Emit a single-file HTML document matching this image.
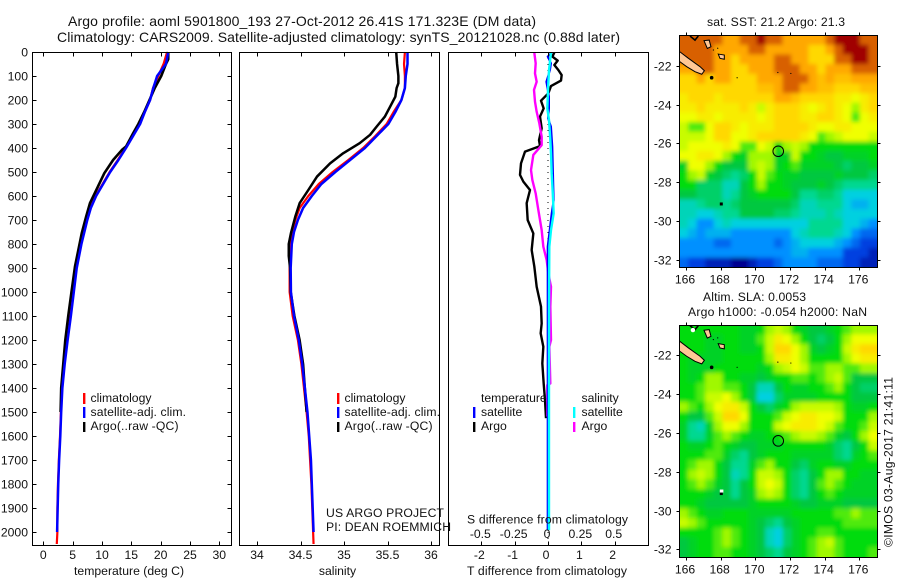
<!DOCTYPE html>
<html lang="en">
<head>
<meta charset="utf-8">
<title>Argo profile</title>
<style>
html,body{margin:0;padding:0;background:#fff}
svg{display:block}
text{font-family:"Liberation Sans",sans-serif;font-size:12.2px;fill:#111}
</style>
</head>
<body>
<svg id="chart" xmlns="http://www.w3.org/2000/svg" width="900" height="580" viewBox="0 0 900 580">
<defs>
<filter id="soften" x="-5%" y="-5%" width="110%" height="110%"><feGaussianBlur stdDeviation="2.2"/></filter>
<clipPath id="clip-sst"><rect x="679.5" y="35.5" width="198" height="232"/></clipPath>
<clipPath id="clip-sla"><rect x="679.5" y="325.5" width="198" height="232"/></clipPath>
</defs>
<text x="68" y="26" style="font-size:14px" textLength="468" lengthAdjust="spacing">Argo profile: aoml 5901800_193 27-Oct-2012 26.41S 171.323E (DM data)</text>
<text x="57" y="42" style="font-size:14px" textLength="563" lengthAdjust="spacing">Climatology: CARS2009. Satellite-adjusted climatology: synTS_20121028.nc (0.88d later)</text>
<g id="layer-heat"></g>
<g id="layer-series"></g>
<g id="layer-axes"></g>

<text x="129" y="575" text-anchor="middle" textLength="110" lengthAdjust="spacing">temperature (deg C)</text>
<text x="337.5" y="575" text-anchor="middle">salinity</text>
<text x="547" y="575" text-anchor="middle" textLength="160" lengthAdjust="spacing">T difference from climatology</text>
<text x="547.5" y="523.5" text-anchor="middle" textLength="161" lengthAdjust="spacing">S difference from climatology</text>

<g>
<rect x="83" y="393" width="2.4" height="11" fill="#f00"/>
<rect x="83" y="407" width="2.4" height="11" fill="#00f"/>
<rect x="83" y="422" width="2.4" height="10" fill="#000"/>
<text x="90.5" y="402">climatology</text>
<text x="90.5" y="416" textLength="95.5" lengthAdjust="spacing">satellite-adj. clim.</text>
<text x="90.5" y="430" textLength="88" lengthAdjust="spacing">Argo(..raw -QC)</text>
</g>
<g>
<rect x="337" y="393" width="2.4" height="11" fill="#f00"/>
<rect x="337" y="407" width="2.4" height="11" fill="#00f"/>
<rect x="337" y="422" width="2.4" height="10" fill="#000"/>
<text x="344.5" y="402">climatology</text>
<text x="344.5" y="416" textLength="95.5" lengthAdjust="spacing">satellite-adj. clim.</text>
<text x="344.5" y="430" textLength="88" lengthAdjust="spacing">Argo(..raw -QC)</text>
</g>
<g>
<text x="481" y="402">temperature</text>
<text x="581.5" y="402">salinity</text>
<rect x="473" y="407" width="2.4" height="11" fill="#00f"/>
<rect x="473" y="422" width="2.4" height="10" fill="#000"/>
<rect x="573" y="407" width="2.4" height="11" fill="#0ff"/>
<rect x="573" y="422" width="2.4" height="10" fill="#f0f"/>
<text x="481" y="416">satellite</text>
<text x="481" y="430">Argo</text>
<text x="581.5" y="416">satellite</text>
<text x="581.5" y="430">Argo</text>
</g>
<text x="326" y="517" textLength="118" lengthAdjust="spacing">US ARGO PROJECT</text>
<text x="326" y="531" textLength="125" lengthAdjust="spacing">PI: DEAN ROEMMICH</text>

<text x="707" y="26" textLength="138" lengthAdjust="spacing">sat. SST: 21.2 Argo: 21.3</text>
<text x="703" y="301" textLength="103" lengthAdjust="spacing">Altim. SLA: 0.0053</text>
<text x="688" y="316" textLength="179" lengthAdjust="spacing">Argo h1000: -0.054 h2000: NaN</text>
<text transform="translate(892.5,547) rotate(-90)" textLength="170" lengthAdjust="spacing">©IMOS 03-Aug-2017 21:41:11</text>
</svg>

<script>
// ---- profile data -------------------------------------------------------
var climDepth = [0,50,100,150,200,250,300,350,400,450,500,550,600,650,700,800,900,1000,1100,1200,1300,1400,1500,1600,1700,1800,1900,2000,2050];
var climTemp = [21.1,20.5,19.6,18.7,18.2,17.3,16.4,15.2,14.0,12.7,11.3,10.1,8.9,8.0,7.4,6.4,5.6,5.1,4.6,4.1,3.6,3.2,3.0,2.85,2.65,2.5,2.4,2.4,2.3];
var satDepth = [0,50,100,150,200,250,300,350,400,450,500,550,600,650,700,800,900,1000,1100,1200,1300,1400,1500,1600,1700,1800,1900,2000];
var satTemp = [21.3,20.9,19.4,18.75,18.2,17.3,16.5,15.3,14.1,12.8,11.4,10.2,9.0,8.1,7.5,6.5,5.7,5.2,4.7,4.15,3.65,3.25,3.05,2.9,2.7,2.55,2.45,2.35];
var argoTempDepth = [0,30,50,100,150,200,250,300,339,394,408,450,505,561,630,686,755,894,1000,1100,1200,1300,1400,1500];
var argoTemp = [21.3,21.3,20.9,20.1,19.0,18.1,17.2,16.2,15.3,14.1,13.4,11.9,10.4,9.3,7.95,7.3,6.55,5.4,4.8,4.25,3.75,3.4,3.05,2.95];

var climSalDepth = [0,50,100,150,200,250,300,350,400,450,500,550,600,650,700,750,800,900,1000,1100,1200,1300,1400,1500,1600,1700,1800,1900,2000,2050];
var climSal = [35.70,35.69,35.70,35.70,35.66,35.57,35.49,35.36,35.22,35.05,34.87,34.71,34.59,34.49,34.44,34.41,34.39,34.375,34.375,34.41,34.47,34.51,34.54,34.57,34.595,34.61,34.625,34.635,34.645,34.65];
var satSalDepth = [0,50,100,150,200,250,300,350,400,450,500,550,600,650,700,750,800,900,1000,1100,1200,1300,1400,1500,1600,1700,1800,1900,2000];
var satSal = [35.73,35.73,35.71,35.70,35.66,35.59,35.51,35.375,35.24,35.07,34.90,34.74,34.63,34.53,34.47,34.425,34.40,34.387,34.39,34.425,34.48,34.52,34.55,34.58,34.60,34.62,34.63,34.64,34.65];
var argoSalDepth = [0,50,100,130,150,186,228,269,311,345,380,422,464,519,575,630,686,755,800,850,900,1000,1100,1200,1300,1400,1500];
var argoSal = [35.60,35.61,35.625,35.625,35.605,35.59,35.53,35.47,35.375,35.30,35.18,34.99,34.84,34.69,34.59,34.49,34.44,34.39,34.365,34.365,34.38,34.387,34.43,34.49,34.53,34.55,34.57];

var argoTDiffDepth = [3,19,36,54,75,96,119,142,172,203,235,269,318,367,392,415,464,512,540,575,630,700,756,825,894,978,1061,1131,1172,1228,1297,1381,1450,1526];
var argoTDiff = [.19,.13,.29,.19,.31,.41,.39,.09,.01,-.21,-.13,-.24,-.19,-.27,-.24,-.69,-.81,-.84,-.74,-.54,-.64,-.61,-.44,-.49,-.41,-.34,-.21,-.19,-.22,-.14,-.17,-.13,-.09,-.06];
var argoSDiffDepth = [3,47,89,124,158,207,249,297,353,388,429,492,533,589,658,742,811,867,922,978,1061,1200,1228,1381,1388,1519];
var argoSDiff = [-.1025,-.0925,-.0975,-.085,-.105,-.0975,-.085,-.065,-.0475,-.0475,-.11,-.1275,-.1175,-.0925,-.0725,-.0475,-.035,-.01,.0025,.0225,.0175,.0225,.01,.0175,-.005,-.005];
var satTDiffDepth = [3,19,47,75,124,186,235,276,311,394,506,617,672,742,811,1061,1992];
var satTDiff = [.11,-.01,.09,.06,-.05,.03,.03,0,.09,.13,.15,.17,.11,.05,-.01,-.01,-.01];
var satSDiffDepth = [3,75,158,235,283,367,422,506,581,672,742,811,1061,1992];
var satSDiff = [.0225,.0075,0,-.005,.0075,.0175,.0225,.0275,.035,.0425,.0225,.01,.0075,.0075];

// ---- axis tick labels ---------------------------------------------------
var depthTicks = [0,100,200,300,400,500,600,700,800,900,1000,1100,1200,1300,1400,1500,1600,1700,1800,1900,2000];
var tempTicks = [0,5,10,15,20,25,30];
var salTicks = [34,34.5,35,35.5,36];
var tDiffTicks = [-2,-1,0,1,2];
var sDiffTicks = [-0.5,-0.25,0,0.25,0.5];
var lonTicks = [166,168,170,172,174,176];
var latTicks = [-22,-24,-26,-28,-30,-32];

// ---- map grids (colour-scale level, 0 navy .. 12 dark red) ----------------
var gridLon0 = 165.62;
var gridLat0 = -20.42;
var gridDLon = 0.496;
var gridDLat = 0.4985;
var sstRow00 = [11,11,11,11,11,10,10,11,11,12,11,11,10,10,10,10,10,11,12,12,12,11,11];
var sstRow01 = [11,11,11,11,10,10,10,10,11,11,10,10,10,10,10,9,9,10,11,12,12,12,11];
var sstRow02 = [11,11,11,11,10,10,9,10,10,10,10,11,11,10,10,9,9,9,11,11,12,12,11];
var sstRow03 = [10,10,11,11,10,10,9,9,10,10,10,11,11,11,10,10,9,10,10,10,11,11,11];
var sstRow04 = [9,9,10,9,10,10,9,9,9,10,10,10,11,11,11,10,9.5,10,9.5,9.5,10,10,10];
var sstRow05 = [9,9,9,9,9,9,9,9,9,9.5,9.5,10,11,11,10,10,9.5,9.5,9,9,9,9.5,9.5];
var sstRow06 = [8.5,9,9,9,8.5,9,9,9,9,9,9,10,10,9.5,9,9,9,9,8.5,8.5,8,8.5,9];
var sstRow07 = [8.5,8.5,9,8.5,8.5,8.5,8.5,9,8.5,7.5,8.5,9,9,9,8.5,8,8.5,9,8.5,8,7,8.5,9];
var sstRow08 = [8,8,8.5,8.5,8,8.5,8.5,8.5,8.5,8,8.5,9,9,9,8.5,8.5,9,9,8.5,8,6.5,8,8.5];
var sstRow09 = [7.5,6.5,6.5,8,9,9,8.5,8,8.5,8.5,8.5,9,9,9,9,8.5,8,8,8.5,8.5,8,8,8];
var sstRow10 = [7.5,7.5,7.5,8,9,9,8,8,8.5,9,9,9,9,9,8.5,8,6.5,7,7.5,8,8,8,7.5];
var sstRow11 = [7.5,8,8,8,8,8.5,8,6.5,6.5,8,7.5,6,7,7.5,7,6,6,6,6,6,6,6,6];
var sstRow12 = [8,8,8.5,8.5,8,7,6,5.5,7,7,7,5.5,5.5,7.5,6,6,5.5,5,5,5.5,5.5,5.5,6];
var sstRow13 = [5.5,8,8,7,6,5,5,5,7,7.5,7,5.5,6,6.5,5.5,5.5,5.5,5.5,5,4.5,5,5,5.5];
var sstRow14 = [6,7,7.5,5.5,5,4.5,4,4.5,6,7.5,6.5,6,5.5,5.5,5,5,5,5,5.5,5,5,5,4.5];
var sstRow15 = [6,6,4.5,4.5,4.5,3.5,3.5,5,6,7,6,6,5.5,5,5,5,5.5,5,4.5,4,4,4,4];
var sstRow16 = [5,5,4.5,4.5,4.5,3.5,4,5,5.5,6,6,6,6,5,4,4,4.5,4.5,4,3,3,3,3];
var sstRow17 = [3.5,3.5,4,4.5,4.5,4,4.5,5,5,5,5,5,5,4.5,3.5,3.5,4,4,4,3,2.5,2.5,3];
var sstRow18 = [3.5,3.5,3,3,3.5,4,4,5,5,5,5,4.5,4.5,4,3.5,3.5,3.5,4,3.5,3,3,3,3];
var sstRow19 = [3.5,3,2,2,3,3.5,3,3,3,3,3,3,3,3,3,4,4,4,4,3,3,2.5,2];
var sstRow20 = [3,2.5,2,2.5,2.5,2.5,2,2,2,2,2,2,2,3,3.5,4,4,4,3.5,3,2,1.5,1.5];
var sstRow21 = [2,2,2,2,1.5,1.5,2,2,2,2,2,1.5,2,2.5,3,3,3,3,2.5,2,1.5,1,1];
var sstRow22 = [2,2,2,2,2,2,2,2,2,2,2,2,2,2.5,2.5,2,2,2,2,1,1,1,0.5];
var sstRow23 = [1.5,1,1,0.5,0.5,0.5,0,0,0.5,1,1,1.5,2,2,2,2,1.5,1.5,1.5,1,1,0.5,0.5];
var sstGrid = [sstRow00,sstRow01,sstRow02,sstRow03,sstRow04,sstRow05,sstRow06,sstRow07,sstRow08,sstRow09,sstRow10,sstRow11,sstRow12,sstRow13,sstRow14,sstRow15,sstRow16,sstRow17,sstRow18,sstRow19,sstRow20,sstRow21,sstRow22,sstRow23];

var slaRow00 = [6,6,6,6,6,6,6,5.5,5.5,6,7,7.5,7,6,5.5,5,5,5.5,6,6.5,7,7,7];
var slaRow01 = [6,6,6,5.5,5.5,6,6,5.5,5.5,6.5,7.5,8.5,8,7,6,5,4.5,5,6,7,8,8,8];
var slaRow02 = [6,6,6,5.5,5.5,6,6,5.5,5.5,6,7.5,9,9,8,7,5.5,5,5.5,6,7.5,8.5,9,9];
var slaRow03 = [6,5.5,5.5,5.5,5.5,6,6,6,6,6,7,8.5,8.5,8,7,6,6,6,6,7,8,8.5,8.5];
var slaRow04 = [6,5.5,5.5,5.5,6,6,6,6,6,5.5,6,7,7.5,8,7.5,6.5,6.5,7,7,6.5,6.5,7,7];
var slaRow05 = [6,5.5,6,7,7,6,6,5.5,5.5,5,5.5,6,6,6.5,6.5,6,6.5,7,7.5,6.5,5,5,5];
var slaRow06 = [6,6,6.5,7,7,6.5,6.5,6,5,3.5,3.5,5,6,5.5,5.5,6,6,6.5,7,6,5,4.5,4.5];
var slaRow07 = [6,6,6.5,7.5,7.5,8,7,6,5,3,3,4.5,5.5,5.5,5.5,5.5,6,6,6,6,5,5,5];
var slaRow08 = [7,6.5,6,7,8,8.5,8.5,7.5,6,5,4.5,5.5,6,7,7.5,7.5,7.5,7.5,7,6,5.5,5.5,6];
var slaRow09 = [6,5,5,6.5,7.5,9,9,8,6,6,6,6.5,7.5,8,8.5,8.5,8,8,7.5,6,6,6,7];
var slaRow10 = [5.5,4,3.5,5.5,7,8,8,7,6,6,6,7.5,8,8.5,8.5,8.5,8,7.5,6.5,6,6,6.5,7.5];
var slaRow11 = [5.5,4,4,5.5,6.5,7,6.5,6,5.5,5.5,6,6,6.5,7,7.5,7.5,7,6.5,5.5,5,6,7,8];
var slaRow12 = [6,5.5,5.5,6,6.5,6,5.5,5,5,5.5,5.5,5.5,6,6,6,6,6,5.5,4.5,4,5,6,7.5];
var slaRow13 = [6,6,6,6.5,6.5,5.5,4.5,4,5,5.5,6,6,6,5.5,5.5,5.5,5.5,5.5,4.5,4,5.5,6,6.5];
var slaRow14 = [6,6.5,7,7,6,5,4,4,5.5,6.5,7,6,6,5,4.5,5.5,6,6,5.5,5.5,6,6,6];
var slaRow15 = [6,7,7.5,7,6,5,3.5,4,6,7.5,7.5,7,6,4.5,4,5,6,7,7,6,6,5.5,5.5];
var slaRow16 = [6,6.5,7,6.5,5.5,5,4,5,6,7.5,8,7.5,6,4.5,4,5,6.5,7,6.5,6,5.5,5.5,5.5];
var slaRow17 = [6,6,6,5.5,5,5,4,5,5.5,7,7.5,7,6,4.5,4,5,6,6.5,6,5.5,5.5,5.5,5.5];
var slaRow18 = [6,6,5.5,5,5,5,5,5,5.5,6,6,6,6,5.5,5,5,5.5,5.5,5.5,5,5,5,5];
var slaRow19 = [7,6.5,6,5.5,5.5,6,6,6,5.5,5.5,5.5,5.5,5.5,6,6,6,6,6,6.5,6.5,7,6.5,6.5];
var slaRow20 = [7.5,7,6.5,6,6,6,6,6,5.5,5,4.5,4,5,5.5,6,6,6,6,6,6.5,6.5,6.5,6.5];
var slaRow21 = [6,6,6,6,6.5,7,6.5,6,5.5,5,3.5,3,4.5,5.5,6,6,6.5,6.5,6,6,6,6,6];
var slaRow22 = [5,5.5,6,6,6.5,7,6.5,6,5.5,5,3.5,3,4.5,5.5,6,6.5,7,7.5,6.5,6,6,6,6];
var slaRow23 = [5,5.5,6,6,6.5,6.5,6,6,5.5,5,4.5,4,5,5.5,6,6.5,7,7,6.5,6,6,6,6.5];
var slaGrid = [slaRow00,slaRow01,slaRow02,slaRow03,slaRow04,slaRow05,slaRow06,slaRow07,slaRow08,slaRow09,slaRow10,slaRow11,slaRow12,slaRow13,slaRow14,slaRow15,slaRow16,slaRow17,slaRow18,slaRow19,slaRow20,slaRow21,slaRow22,slaRow23];

var levelColours = ['#000090','#0040e0','#0090ff','#00d0e0','#00d890','#00c840','#00dc10','#a0f800','#f0ff00','#ffd800','#ffa800','#d86000','#a00000'];

// ---- geography in lon/lat ---------------------------------------------------
var caledoniaLon = [165.5,165.64,166.14,166.81,167.06,166.91,166.52,166.04,165.64,165.5];
var caledoniaLat = [-21.2,-21.28,-21.62,-22.05,-22.26,-22.44,-22.31,-22.05,-21.79,-21.7];
var lifouLon = [167.04,167.34,167.44,167.23];
var lifouLat = [-20.71,-20.68,-21.02,-21.11];
var mareLon = [167.86,168.21,168.21,167.96];
var mareLat = [-21.40,-21.45,-21.67,-21.62];
var ouveaLon = [166.23,166.52,166.71];
var ouveaLat = [-20.47,-20.68,-20.47];
var isletLon = [167.48,168.95,171.3,172.05,167.58,167.83];
var isletLat = [-22.62,-22.62,-22.35,-22.4,-21.19,-21.1];
var islandRadius = [1.8,0.6,0.6,0.6,0.6,0.6];
var profileLon = 171.323;
var profileLat = -26.41;

// ---- scales ---------------------------------------------------------------
var NS = 'http://www.w3.org/2000/svg';
function yDepth(d){ return 52 + d * 0.24; }
function xTemp(t){ return 43.3 + t * 5.867; }
function xSal(s){ return 257 + (s - 34) * 87; }
function xTDiff(t){ return 548 + t * 33.33; }
function xSDiff(s){ return 548 + s * 133.33; }
function xLon(l){ return 686 + (l - 166) * 17.33; }
function ySstLat(l){ return 65.7 + (-22 - l) * 19.4; }
function ySlaLat(l){ return 355.3 + (-22 - l) * 19.4; }

function node(tag, attrs, parent){
  var el = document.createElementNS(NS, tag);
  for (var k in attrs) el.setAttribute(k, attrs[k]);
  parent.appendChild(el);
  return el;
}
function pathOf(xs, ys, xf, yf){
  var d = '';
  for (var i = 0; i < xs.length; i++) d += (i ? 'L' : 'M') + xf(xs[i]).toFixed(2) + ' ' + yf(ys[i]).toFixed(2);
  return d;
}
function levelColour(v){
  var c = Math.max(0, Math.min(levelColours.length - 1, v));
  var a = Math.floor(c), b = Math.min(levelColours.length - 1, a + 1), f = c - a;
  function ch(h, p){ return parseInt(h.substr(p, 2), 16); }
  var r = Math.round(ch(levelColours[a],1) * (1-f) + ch(levelColours[b],1) * f);
  var g = Math.round(ch(levelColours[a],3) * (1-f) + ch(levelColours[b],3) * f);
  var bl = Math.round(ch(levelColours[a],5) * (1-f) + ch(levelColours[b],5) * f);
  return 'rgb(' + r + ',' + g + ',' + bl + ')';
}

var series = document.getElementById('layer-series');
var axes = document.getElementById('layer-axes');
var heat = document.getElementById('layer-heat');

function drawLine(name, values, depths, xf, colour, width){
  var el = node('path', {d: pathOf(values, depths, xf, yDepth), fill: 'none', stroke: colour, 'stroke-width': width, 'stroke-linejoin': 'round'}, series);
  
  
}

// zero reference of the difference panel
var zeroEl = node('line', {x1: xTDiff(0), x2: xTDiff(0), y1: yDepth(0), y2: yDepth(2050), stroke: '#000', 'stroke-width': 1, 'stroke-dasharray': '1 5'}, series);



drawLine('temperature-climatology-line', climTemp, climDepth, xTemp, '#f00', 2.2);
drawLine('temperature-argo-line', argoTemp, argoTempDepth, xTemp, '#000', 2.6);
drawLine('temperature-satellite-line', satTemp, satDepth, xTemp, '#00f', 2.5);
drawLine('salinity-climatology-line', climSal, climSalDepth, xSal, '#f00', 2.2);
drawLine('salinity-argo-line', argoSal, argoSalDepth, xSal, '#000', 2.5);
drawLine('salinity-satellite-line', satSal, satSalDepth, xSal, '#00f', 2.5);
drawLine('t-difference-argo-line', argoTDiff, argoTDiffDepth, xTDiff, '#000', 2.4);
drawLine('s-difference-argo-line', argoSDiff, argoSDiffDepth, xSDiff, '#f0f', 2.4);
drawLine('t-difference-satellite-line', satTDiff, satTDiffDepth, xTDiff, '#00f', 2);
drawLine('s-difference-satellite-line', satSDiff, satSDiffDepth, xSDiff, '#0ff', 2.4);

// ---- profile panel frames, ticks and labels -------------------------------
function drawFrame(name, x0, x1, y0, y1){
  var el = node('rect', {x: x0, y: y0, width: x1 - x0, height: y1 - y0, fill: 'none', stroke: '#000', 'stroke-width': 1, 'shape-rendering': 'crispEdges'}, axes);
  
  
}
function drawTick(x1, y1, x2, y2){
  var el = node('line', {x1: x1, y1: y1, x2: x2, y2: y2, stroke: '#000', 'stroke-width': 1, 'shape-rendering': 'crispEdges'}, axes);
  
  
}
function drawLabel(str, x, y, anchor){
  var el = node('text', {x: x, y: y, 'text-anchor': anchor}, axes);
  el.textContent = str;
  
  
}
var top0 = 52.5, bot0 = 545.5;
drawFrame('temperature-panel-frame', 32.5, 231.5, top0, bot0);
drawFrame('salinity-panel-frame', 239.5, 439.5, top0, bot0);
drawFrame('difference-panel-frame', 448.5, 648.5, top0, bot0);

depthTicks.forEach(function(d){
  var y = Math.round(yDepth(d)) + 0.5;
  drawTick(32.5, y, 36.5, y);
  drawTick(227.5, y, 231.5, y);
  drawLabel(String(d), 28, y + 4, 'end');
});
tempTicks.forEach(function(t){
  var x = Math.round(xTemp(t)) + 0.5;
  drawTick(x, top0, x, top0 + 4);
  drawTick(x, bot0 - 4, x, bot0);
  drawLabel(String(t), xTemp(t), 559, 'middle');
});
salTicks.forEach(function(s){
  var x = Math.round(xSal(s)) + 0.5;
  drawTick(x, top0, x, top0 + 4);
  drawTick(x, bot0 - 4, x, bot0);
  drawLabel(String(s), xSal(s), 559, 'middle');
});
tDiffTicks.forEach(function(t){
  var x = Math.round(xTDiff(t)) + 0.5;
  drawTick(x, top0, x, top0 + 4);
  drawTick(x, bot0 - 4, x, bot0);
  drawLabel(String(t), xTDiff(t) - 2, 559, 'middle');
});
sDiffTicks.forEach(function(s){
  drawLabel(String(s), xSDiff(s) - 1, 538, 'middle');
});

// ---- maps --------------------------------------------------------------------
function drawMap(name, grid, yLat, clipId, frameTop, frameBot, dotted){
  var g = node('g', {'clip-path': 'url(#' + clipId + ')'}, heat);
  
  
  var cells = node('g', {filter: 'url(#soften)'}, g);
  
  
  grid.forEach(function(row, r){
    row.forEach(function(v, c){
      var x = xLon(gridLon0 + c * gridDLon), y = yLat(gridLat0 - r * gridDLat);
      var w = xLon(gridLon0 + (c + 1) * gridDLon) - x + 0.4, h = yLat(gridLat0 - (r + 1) * gridDLat) - y + 0.4;
      if (c === 0) { x -= 14; w += 14; }
      if (c === row.length - 1) { w += 14; }
      if (r === 0) { y -= 14; h += 14; }
      if (r === grid.length - 1) { h += 14; }
      var cell = node('rect', {x: x.toFixed(2), y: y.toFixed(2), width: w.toFixed(2), height: h.toFixed(2), fill: levelColour(v)}, cells);
      
      
    });
  });
  function land(lons, lats, label){
    var el = node('path', {d: pathOf(lons, lats, xLon, yLat) + 'Z', fill: '#ffc896', stroke: '#000', 'stroke-width': 1}, g);
    
    
  }
  land(caledoniaLon, caledoniaLat, 'new-caledonia-land');
  land(lifouLon, lifouLat, 'lifou-land');
  land(mareLon, mareLat, 'mare-land');
  var ou = node('path', {d: pathOf(ouveaLon, ouveaLat, xLon, yLat), fill: 'none', stroke: '#000', 'stroke-width': 1.6}, g);
  
  
  isletLon.forEach(function(lon, i){
    var dot = node('circle', {cx: xLon(lon), cy: yLat(isletLat[i]), r: islandRadius[i], fill: '#000'}, g);
    
    
  });
  var nf = node('rect', {x: xLon(167.95), y: yLat(-29.05), width: 3, height: 3, fill: '#000'}, g);
  
  
  if (dotted) {
    var wh = node('rect', {x: xLon(167.95), y: yLat(-28.92), width: 3.6, height: 3, fill: '#fff'}, g);
    
    
    var wh2 = node('circle', {cx: xLon(166.4), cy: yLat(-20.7), r: 2.2, fill: '#fff'}, g);
    
    
  }
  var ring = node('circle', {cx: xLon(profileLon), cy: yLat(profileLat), r: 5.3, fill: 'none', stroke: '#000', 'stroke-width': 1}, g);
  
  

  drawFrame(name + '-frame', 679.5, 877.5, frameTop, frameBot);
  lonTicks.forEach(function(l){
    var x = Math.round(xLon(l)) + 0.5;
    drawTick(x, frameTop - 3, x, frameTop);
    drawTick(x, frameBot, x, frameBot + 3);
    drawLabel(String(l), xLon(l) - 1, frameBot + 16, 'middle');
  });
  latTicks.forEach(function(l){
    var y = Math.round(yLat(l)) + 0.5;
    drawTick(676.5, y, 679.5, y);
    drawTick(877.5, y, 880.5, y);
    drawLabel(String(l), 671.5, y + 4, 'end');
  });
}
drawMap('sst-map', sstGrid, ySstLat, 'clip-sst', 35.5, 267.5, false);
drawMap('sla-map', slaGrid, ySlaLat, 'clip-sla', 325.5, 557.5, true);
</script>
</body>
</html>
